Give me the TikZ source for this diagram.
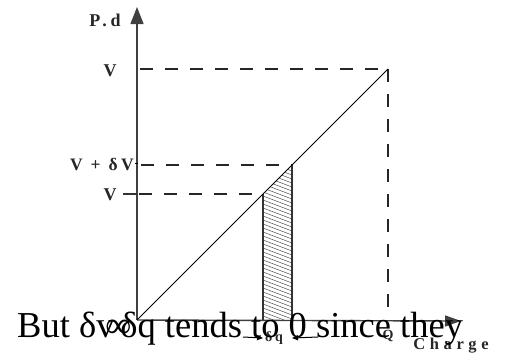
\documentclass[tikz,border=0pt]{standalone}
\usepackage{fontspec}
\usetikzlibrary{arrows.meta}
\setmainfont{Liberation Serif}
\newfontfamily\lblfont[LetterSpace=20]{Liberation Serif}
\newfontfamily\widefont[LetterSpace=28]{Liberation Serif}
\begin{document}
\begin{tikzpicture}[x=1pt,y=-1pt,
  axis/.style={line width=1.4pt,draw=black!75},
  dashline/.style={line width=1.9pt,draw=black!85,dash pattern=on 13pt off 12pt},
  lbl/.style={inner sep=0pt,text=black!85},
  stripedge/.style={line width=1.4pt,draw=black!80},
  big/.style={font=\fontsize{36.5}{36.5}\selectfont,inner sep=0pt,anchor=base west}]
\useasboundingbox (0,0) rectangle (505,354);
\coordinate (O) at (137,320);
\coordinate (ytip) at (137,7);
\coordinate (xtip) at (461,321);
\coordinate (VQ) at (388,69);
\coordinate (A) at (263,194);
\coordinate (B) at (292,165);
\coordinate (Abot) at (263,320);
\coordinate (Bbot) at (292,320);
\coordinate (Vtop) at (137,69);
\coordinate (Vdv) at (137,165);
\coordinate (Vlow) at (137,194);
\coordinate (Qbot) at (388,312);
% hatch
\begin{scope}
\clip (A) -- (B) -- (Bbot) -- (Abot) -- cycle;
\foreach \yy in {140,144,...,330} {
  \draw[line width=0.5pt,black!70] (263,\yy) -- (292,\yy+11);
}
\end{scope}
% axes
\draw[axis,-{Triangle[length=17pt,width=13pt]}] (O) -- (ytip);
\draw[axis,-{Triangle[length=16pt,width=11pt]}] (O) -- (xtip);
% dashed lines
\draw[dashline,dash phase=-3pt] (Vtop) -- (VQ);
\draw[dashline] (VQ) -- (Qbot);
\draw[dashline,dash phase=-4pt] (Vdv) -- (B);
\draw[dashline,dash phase=-2pt] (Vlow) -- (A);
\draw[line width=1.4pt,black!80] (123,194) -- (Vlow);
\draw[line width=0.8pt] (135,163) -- (138,163);
% strip
\draw[stripedge] (A) -- (Abot);
\draw[stripedge] (B) -- (Bbot);
% diagonal
\draw[line width=1pt] (O) -- (VQ);
% labels
\node[lbl,font=\lblfont\bfseries\fontsize{18}{18}\selectfont] (pd) at (105,20) {P.d};
\node[lbl,font=\bfseries\fontsize{18}{18}\selectfont] (lv1) at (110,71) {V};
\node[lbl,font=\lblfont\bfseries\fontsize{17.5}{17.5}\selectfont,anchor=east] (lv2) at (134,165) {V + δV};
\node[lbl,font=\bfseries\fontsize{18}{18}\selectfont] (lv3) at (110,195) {V};
\node[lbl,font=\lblfont\bfseries\fontsize{14}{14}\selectfont] (dq) at (274,338) {δq};
\node[lbl,font=\bfseries\fontsize{14}{14}\selectfont] (lq) at (388,336) {Q};
\node[lbl,font=\widefont\bfseries\fontsize{16.5}{16.5}\selectfont] (chg) at (451,346) {Charge};
\draw[line width=1pt,-{Triangle[length=6pt,width=5pt]}] (243,337) -- (Abot |- dq);
\draw[line width=1pt,-{Triangle[length=6pt,width=5pt]}] (318,337) -- (Bbot |- dq);
% overlaid text
\node[big] (txt) at (17,337) {But δv\kern-0.25em∞\kern-0.3emδq tends to 0 since they};
\end{tikzpicture}
\end{document}
